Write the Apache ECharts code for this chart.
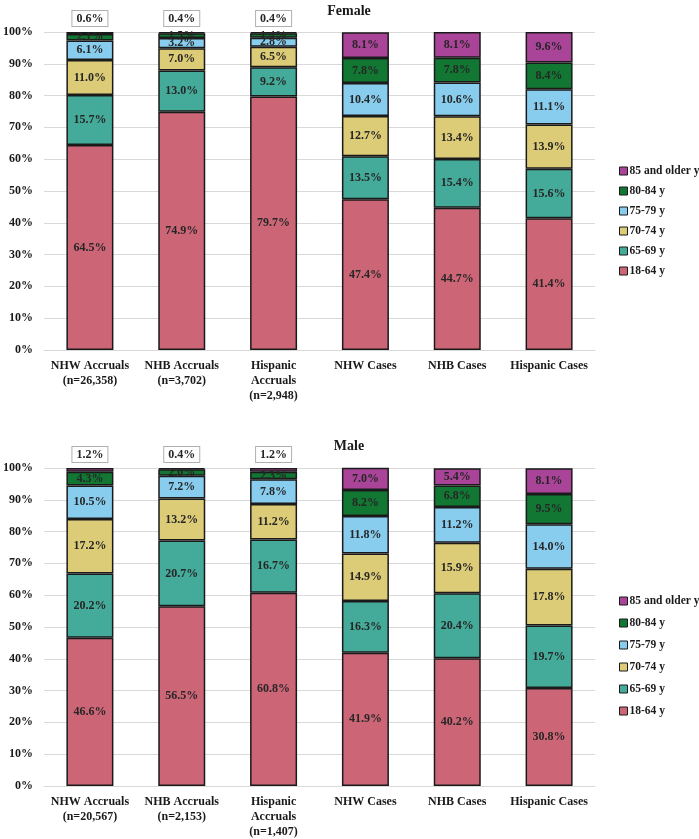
<!DOCTYPE html>
<html>
<head>
<meta charset="utf-8">
<script src="https://cdn.jsdelivr.net/npm/echarts@6/dist/echarts.min.js"></script>
<style>html,body{margin:0;padding:0;background:#fff;}#c{width:699px;height:839px;}</style>
</head>
<body>
<div id="c"></div>
<script>
const ageGroups = ['18-64 y', '65-69 y', '70-74 y', '75-79 y', '80-84 y', '85 and older y'];
const femaleCategories = ['NHW Accruals\n(n=26,358)', 'NHB Accruals\n(n=3,702)', 'Hispanic\nAccruals\n(n=2,948)', 'NHW Cases', 'NHB Cases', 'Hispanic Cases'];
const maleCategories = ['NHW Accruals\n(n=20,567)', 'NHB Accruals\n(n=2,153)', 'Hispanic\nAccruals\n(n=1,407)', 'NHW Cases', 'NHB Cases', 'Hispanic Cases'];

const female_18_64 = [64.5, 74.9, 79.7, 47.4, 44.7, 41.4];
const female_65_69 = [15.7, 13.0, 9.2, 13.5, 15.4, 15.6];
const female_70_74 = [11.0, 7.0, 6.5, 12.7, 13.4, 13.9];
const female_75_79 = [6.1, 3.2, 2.8, 10.4, 10.6, 11.1];
const female_80_84 = [2.1, 1.5, 1.4, 7.8, 7.8, 8.4];
const female_85up  = [0.6, 0.4, 0.4, 8.1, 8.1, 9.6];

const male_18_64 = [46.6, 56.5, 60.8, 41.9, 40.2, 30.8];
const male_65_69 = [20.2, 20.7, 16.7, 16.3, 20.4, 19.7];
const male_70_74 = [17.2, 13.2, 11.2, 14.9, 15.9, 17.8];
const male_75_79 = [10.5, 7.2, 7.8, 11.8, 11.2, 14.0];
const male_80_84 = [4.3, 2.0, 2.3, 8.2, 6.8, 9.5];
const male_85up  = [1.2, 0.4, 1.2, 7.0, 5.4, 8.1];

const colors = ['#CC6677', '#44AA99', '#DDCC77', '#88CCEE', '#117733', '#AA4499'];
const FONT = '"Liberation Serif", "Times New Roman", serif';

const femaleSets = [female_18_64, female_65_69, female_70_74, female_75_79, female_80_84, female_85up];
const maleSets = [male_18_64, male_65_69, male_70_74, male_75_79, male_80_84, male_85up];

const calloutLabel = {
  position: 'top', distance: 6, backgroundColor: '#fff', borderColor: '#b0b0b0', borderWidth: 1,
  padding: [2, 4, 1, 4], color: '#262626'
};

function buildSeries(sets, gridIdx, stackName) {
  return sets.map((vals, gi) => ({
    name: ageGroups[gi],
    type: 'bar',
    stack: stackName,
    xAxisIndex: gridIdx,
    yAxisIndex: gridIdx,
    barWidth: 47,
    itemStyle: { color: colors[gi], borderColor: '#1a1a1a', borderWidth: 1.5 },
    label: {
      show: true, position: 'inside', formatter: p => p.value.toFixed(1) + '%',
      fontFamily: FONT, fontWeight: 'bold', fontSize: 12, color: '#262626'
    },
    emphasis: { disabled: true },
    data: vals.map((v, ci) => (gi === 5 && ci < 3) ? { value: v, label: calloutLabel } : v)
  }));
}

const legendData = ageGroups.slice().reverse();
const legendBase = {
  orient: 'vertical', left: 614, data: legendData, icon: 'rect', itemWidth: 8, itemHeight: 8,
  itemStyle: { borderColor: '#1a1a1a', borderWidth: 1 },
  textStyle: { fontFamily: FONT, fontWeight: 'bold', fontSize: 11.5, color: '#1a1a1a', lineHeight: 14, padding: [0, 0, 0, -3] },
  selectedMode: false
};

function xAxis(cats, gi) {
  return {
    type: 'category', gridIndex: gi, data: cats,
    axisLine: { lineStyle: { color: '#d9d9d9', width: 1 } },
    axisTick: { show: false },
    axisLabel: { interval: 0, margin: 8, fontFamily: FONT, fontWeight: 'bold', fontSize: 12, color: '#1a1a1a', lineHeight: 15 }
  };
}
function yAxis(gi) {
  return {
    type: 'value', gridIndex: gi, min: 0, max: 100, interval: 10,
    axisLabel: { formatter: '{value}%', margin: 11, fontFamily: FONT, fontWeight: 'bold', fontSize: 12, color: '#1a1a1a' },
    splitLine: { lineStyle: { color: '#d9d9d9', width: 1 } },
    axisLine: { show: false }, axisTick: { show: false }
  };
}

const chart = echarts.init(document.getElementById('c'), null, { renderer: 'canvas' });
chart.setOption({
  animation: false,
  backgroundColor: '#fff',
  title: [
    { text: 'Female', left: 344, top: -1, textAlign: 'center', textStyle: { fontFamily: FONT, fontWeight: 'bold', fontSize: 14, color: '#1a1a1a' } },
    { text: 'Male', left: 344, top: 434, textAlign: 'center', textStyle: { fontFamily: FONT, fontWeight: 'bold', fontSize: 14, color: '#1a1a1a' } }
  ],
  legend: [
    Object.assign({}, legendBase, { top: 159, itemGap: 6 }),
    Object.assign({}, legendBase, { top: 589, itemGap: 8 })
  ],
  grid: [
    { left: 39, right: 104, top: 32, height: 318 },
    { left: 39, right: 104, top: 468, height: 323 }
  ],
  xAxis: [xAxis(femaleCategories, 0), xAxis(maleCategories, 1)],
  yAxis: [yAxis(0), yAxis(1)],
  series: buildSeries(femaleSets, 0, 'f').concat(buildSeries(maleSets, 1, 'm'))
});
</script>
</body>
</html>
